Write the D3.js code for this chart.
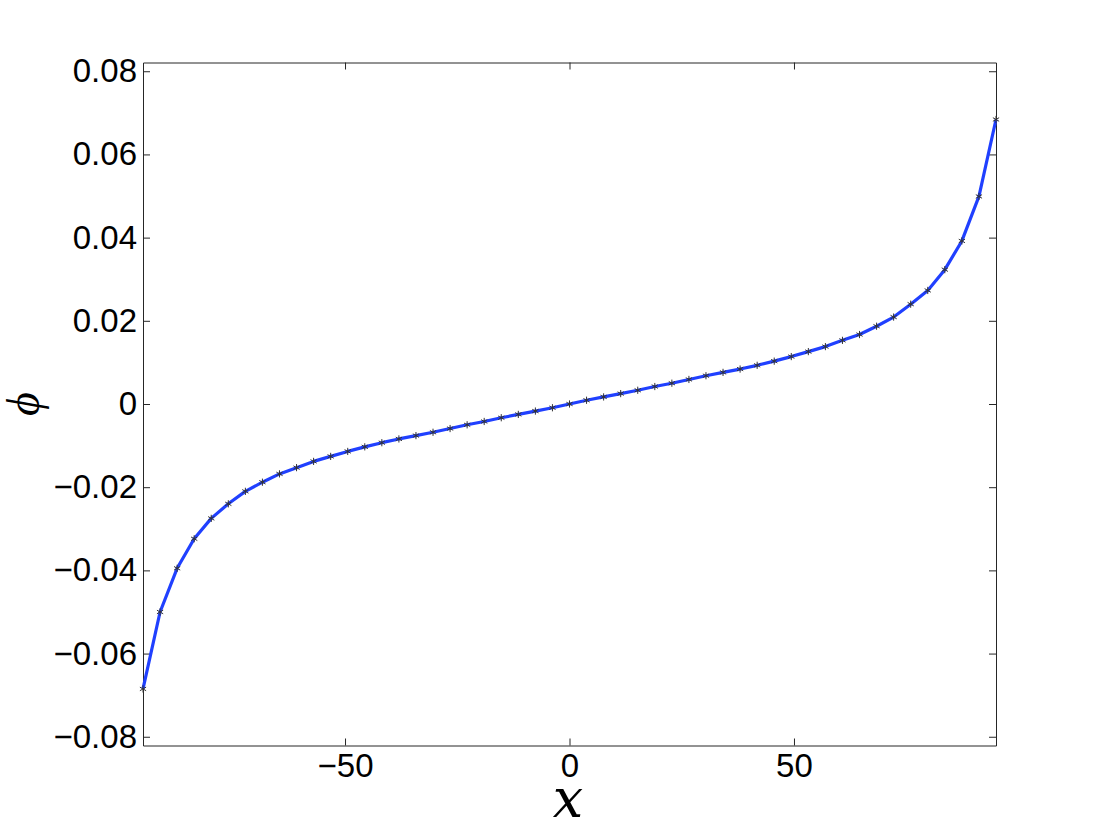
<!DOCTYPE html>
<html>
<head>
<meta charset="utf-8">
<script src="https://cdn.jsdelivr.net/npm/d3@7"></script>
<style>
  html, body { margin: 0; padding: 0; background: #fff; }
  svg { display: block; }
</style>
</head>
<body>
<svg id="chart" width="1100" height="839"></svg>
<script>
// ---- data ----
const xValues = [
  -95, -91.2, -87.4, -83.6, -79.8, -76, -72.2, -68.4, -64.6, -60.8,
  -57, -53.2, -49.4, -45.6, -41.8, -38, -34.2, -30.4, -26.6, -22.8,
  -19, -15.2, -11.4, -7.6, -3.8, 0, 3.8, 7.6, 11.4, 15.2,
  19, 22.8, 26.6, 30.4, 34.2, 38, 41.8, 45.6, 49.4, 53.2,
  57, 60.8, 64.6, 68.4, 72.2, 76, 79.8, 83.6, 87.4, 91.2, 95
];
const phiValues = [
  -0.0685, -0.0500, -0.0395, -0.0324, -0.0275, -0.0240, -0.0210, -0.0188, -0.0168, -0.0153,
  -0.0138, -0.0126, -0.0114, -0.0103, -0.0093, -0.0084, -0.0076, -0.0068, -0.0059, -0.0050,
  -0.0042, -0.0033, -0.0025, -0.0017, -0.0009, 0, 0.0009, 0.0017, 0.0025, 0.0033,
  0.0042, 0.0050, 0.0059, 0.0068, 0.0076, 0.0084, 0.0093, 0.0103, 0.0114, 0.0126,
  0.0138, 0.0153, 0.0167, 0.0187, 0.0209, 0.0240, 0.0273, 0.0323, 0.0392, 0.0499, 0.0684
];
const xTicks = [-50, 0, 50];
const yTicks = [-0.08, -0.06, -0.04, -0.02, 0, 0.02, 0.04, 0.06, 0.08];
const xDomain = [-95, 95];
const yDomain = [-0.0821, 0.0821];

// ---- layout ----
const L = 143, R = 996, T = 62.5, B = 745.5;
const svg = d3.select("#chart");

const x = d3.scaleLinear().domain(xDomain).range([L, R]);
const y = d3.scaleLinear().domain(yDomain).range([B, T]);

const points = xValues.map((v, i) => ({ x: v, y: phiValues[i] }));

const fmtY = d => d === 0 ? "0" : (d < 0 ? "\u2212" : "") + Math.abs(d).toFixed(2);
const fmtX = d => d === 0 ? "0" : (d < 0 ? "\u2212" : "") + Math.abs(d);

const axisColor = "#262626";
const tickFont = "'Liberation Sans', Arial, Helvetica, sans-serif";

function styleAxis(g) {
  g.select(".domain").attr("stroke", axisColor).attr("stroke-width", 1);
  g.selectAll(".tick line").attr("stroke", axisColor).attr("stroke-width", 1);
  g.selectAll(".tick text").attr("fill", "#000")
    .style("font-family", tickFont).style("font-size", "33px");
}

// bottom axis
svg.append("g")
  .attr("transform", `translate(0,${B})`)
  .call(d3.axisBottom(x).tickValues(xTicks).tickFormat(fmtX).tickSizeInner(-7).tickSizeOuter(0).tickPadding(8))
  .call(styleAxis);
// top axis
svg.append("g")
  .attr("transform", `translate(0,${T})`)
  .call(d3.axisTop(x).tickValues(xTicks).tickFormat("").tickSizeInner(-7).tickSizeOuter(0))
  .call(styleAxis);
// left axis
svg.append("g")
  .attr("transform", `translate(${L},0)`)
  .call(d3.axisLeft(y).tickValues(yTicks).tickFormat(fmtY).tickSizeInner(-7).tickSizeOuter(0).tickPadding(6))
  .call(styleAxis);
// right axis
svg.append("g")
  .attr("transform", `translate(${R},0)`)
  .call(d3.axisRight(y).tickValues(yTicks).tickFormat("").tickSizeInner(-7).tickSizeOuter(0))
  .call(styleAxis);

// line
const line = d3.line().x(d => x(d.x)).y(d => y(d.y));
svg.append("path")
  .datum(points)
  .attr("fill", "none")
  .attr("stroke", "#2040ff")
  .attr("stroke-width", 3.2)
  .attr("stroke-linejoin", "round")
  .attr("d", line);

// asterisk markers
const sym = d3.symbol().type(d3.symbolAsterisk).size(36);
svg.append("g").selectAll("path")
  .data(points)
  .join("path")
  .attr("transform", d => `translate(${x(d.x)},${y(d.y)})`)
  .attr("d", sym)
  .attr("fill", "none")
  .attr("stroke", "#333")
  .attr("stroke-width", 1);

// axis labels
svg.append("text")
  .attr("x", 568)
  .attr("y", 817)
  .attr("text-anchor", "middle")
  .style("font-family", "'DejaVu Serif', 'Liberation Serif', serif")
  .style("font-style", "italic")
  .style("font-size", "54px")
  .text("x");

svg.append("text")
  .attr("transform", "translate(39,404) rotate(-90)")
  .attr("text-anchor", "middle")
  .style("font-family", "'Liberation Serif', 'DejaVu Serif', serif")
  .style("font-style", "italic")
  .style("font-size", "46px")
  .text("\u03D5");
</script>
</body>
</html>
